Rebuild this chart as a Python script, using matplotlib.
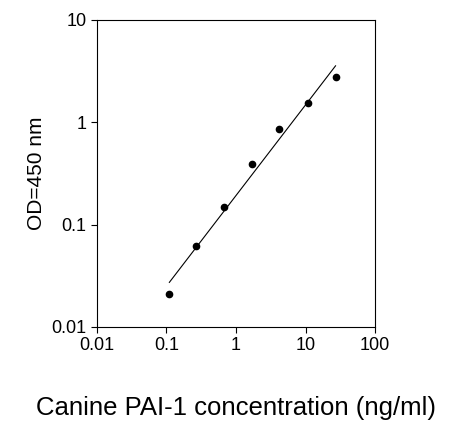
import numpy as np
import matplotlib
matplotlib.use("Agg")
import matplotlib.pyplot as plt

plt.rcParams['font.family'] = ['Liberation Sans', 'DejaVu Sans']

conc = [0.11, 0.27, 0.68, 1.7, 4.2, 11, 27]
od = [0.021, 0.062, 0.147, 0.39, 0.85, 1.55, 2.75]
xticks = [0.01, 0.1, 1, 10, 100]
xticklabels = ['0.01', '0.1', '1', '10', '100']
yticks = [0.01, 0.1, 1, 10]
yticklabels = ['0.01', '0.1', '1', '10']

fig = plt.figure(figsize=(4.53, 4.25), dpi=100)
ax = fig.add_axes([0.214, 0.231, 0.614, 0.722])
ax.set_xscale('log'); ax.set_yscale('log')
ax.set_xlim(0.01, 100); ax.set_ylim(0.01, 10)

lx, ly = np.log10(conc), np.log10(od)
b, a = np.polyfit(lx, ly, 1)
fx = np.array([conc[0], conc[-1]])
ax.plot(fx, 10**(a + b*np.log10(fx)), color='black', lw=0.8)
ax.plot(conc, od, 'o', color='black', ms=4.5)

ax.set_xticks(xticks); ax.set_xticklabels(xticklabels)
ax.set_yticks(yticks); ax.set_yticklabels(yticklabels)
ax.minorticks_off()
ax.tick_params(direction='out', labelsize=13, length=4, top=False, right=False)
ax.set_xlabel('Canine PAI-1 concentration (ng/ml)', fontsize=18.5, labelpad=30)
ax.set_ylabel('OD=450 nm', fontsize=15, labelpad=4)
fig.savefig('out.png', dpi=100)
